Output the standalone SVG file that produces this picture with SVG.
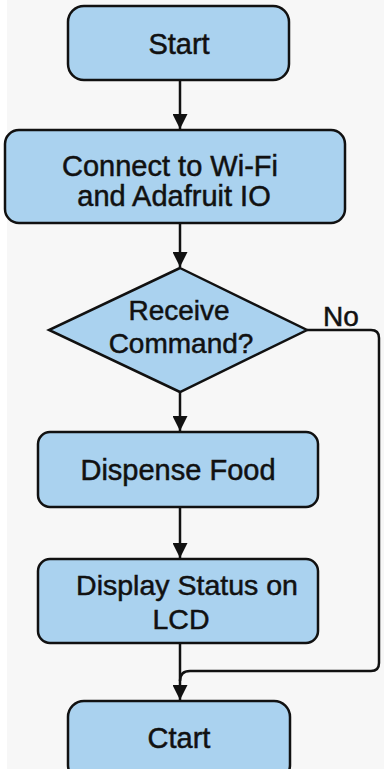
<svg xmlns="http://www.w3.org/2000/svg" width="384" height="769" viewBox="0 0 384 769">
<defs>
<style>
.box{fill:#aad2ef;stroke:#111;stroke-width:2.5}
.t{font-family:"Liberation Sans",Arial,sans-serif;fill:#111;stroke:#111;stroke-width:0.5;text-anchor:middle}
.ln{fill:none;stroke:#111;stroke-width:2.5}
</style>
<marker id="ah" viewBox="0 0 10 10" refX="10" refY="5" markerWidth="6" markerHeight="6" markerUnits="strokeWidth" orient="auto">
<path d="M0,0 L10,5 L0,10 z" fill="#111"/>
</marker>
</defs>
<rect width="384" height="769" fill="#f7f7f7"/>
<rect width="7" height="769" fill="#ffffff"/>
<g id="connectors">
<path class="ln" d="M180,80 V129" marker-end="url(#ah)"/>
<path class="ln" d="M180,223 V267" marker-end="url(#ah)"/>
<path class="ln" d="M180,392 V431" marker-end="url(#ah)"/>
<path class="ln" d="M180,507 V558" marker-end="url(#ah)"/>
<path class="ln" d="M180,643 V700" marker-end="url(#ah)"/>
<path class="ln" d="M307,330 H371 Q379,330 379,338 V663 Q379,671 371,671 H190 Q180,671 180,681"/>
</g>
<g id="start">
<rect class="box" x="68" y="6" width="221" height="74" rx="16"/>
<text class="t" x="179" y="54" font-size="29">Start</text>
</g>
<g id="connect">
<rect class="box" x="5" y="130" width="340" height="93" rx="14"/>
<text class="t" x="170" y="176" font-size="29">Connect to Wi-Fi</text>
<text class="t" x="174" y="206" font-size="29">and Adafruit IO</text>
</g>
<g id="decision">
<polygon class="box" points="180,268 307,330 180,392 49,330"/>
<text class="t" x="179" y="320" font-size="28">Receive</text>
<text class="t" x="181" y="353" font-size="28">Command?</text>
</g>
<text class="t" x="341" y="326" font-size="28">No</text>
<g id="dispense">
<rect class="box" x="38" y="432" width="280" height="75" rx="12"/>
<text class="t" x="178" y="480" font-size="29">Dispense Food</text>
</g>
<g id="display">
<rect class="box" x="38" y="559" width="280" height="84" rx="12"/>
<text class="t" x="187" y="595" font-size="28.5">Display Status on</text>
<text class="t" x="181" y="629" font-size="28.5">LCD</text>
</g>
<g id="end">
<rect class="box" x="68" y="701" width="222" height="80" rx="16"/>
<text class="t" x="179" y="748" font-size="29">Ctart</text>
</g>
</svg>
